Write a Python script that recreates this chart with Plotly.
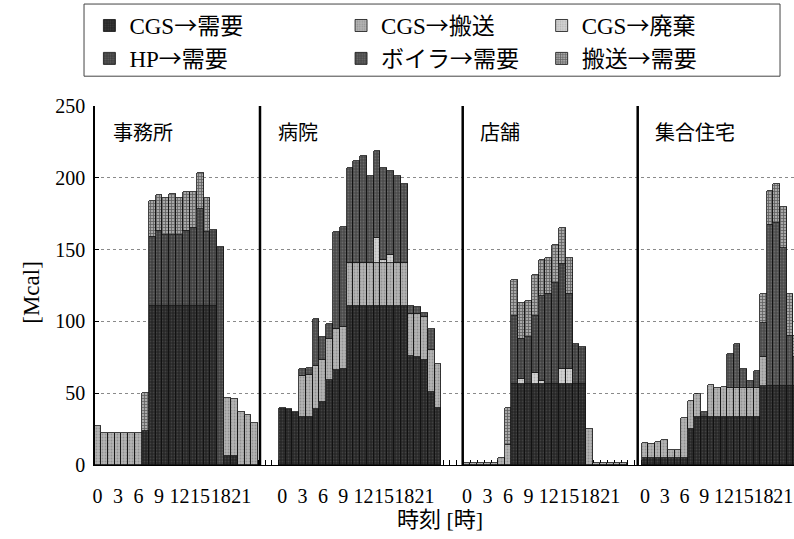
import plotly.graph_objects as go

# ---------------- data ----------------
series_names = ["CGS→需要", "CGS→搬送", "CGS→廃棄", "HP→需要", "ボイラ→需要", "搬送→需要"]
buildings = ["事務所", "病院", "店舗", "集合住宅"]
hour_ticks = [0, 3, 6, 9, 12, 15, 18, 21]
y_ticks = [0, 50, 100, 150, 200, 250]

# 事務所
office_cgs_demand = [0, 0, 0, 0, 0, 0, 0, 24, 111, 111, 111, 111, 111, 111, 111, 111, 111, 111, 0, 6, 6, 0, 0, 0]
office_cgs_transport = [27, 22, 22, 22, 22, 22, 22, 0, 0, 0, 0, 0, 0, 0, 0, 0, 0, 0, 0, 41, 40, 37, 35, 29]
office_cgs_waste = [0, 0, 0, 0, 0, 0, 0, 0, 0, 0, 0, 0, 0, 0, 0, 0, 0, 0, 0, 0, 0, 0, 0, 0]
office_hp = [0, 0, 0, 0, 0, 0, 0, 0, 48, 52, 49.5, 49.5, 49.5, 52, 54, 67, 51, 53, 152, 0, 0, 0, 0, 0]
office_boiler = [0, 0, 0, 0, 0, 0, 0, 0, 0, 0, 0, 0, 0, 0, 0, 0, 0, 0, 0, 0, 0, 0, 0, 0]
office_transport_in = [0, 0, 0, 0, 0, 0, 0, 26, 25, 25, 25.5, 28.5, 25.5, 27, 25, 25, 24, 0, 0, 0, 0, 0, 0, 0]

# 病院
hosp_cgs_demand = [40, 39, 37, 33.5, 33.5, 39, 44, 59, 66, 67, 111, 111, 111, 111, 111, 111, 111, 111, 111, 76, 75, 73, 51, 40]
hosp_cgs_transport = [0, 0, 0, 28.5, 29, 30, 29, 29, 29, 29, 30, 30, 30, 30, 30, 30, 30, 30, 30, 29, 30, 30, 29, 30]
hosp_cgs_waste = [0, 0, 0, 0, 0, 0, 0, 0, 0, 0, 0, 0, 0, 0, 17, 2, 5, 0, 0, 0, 0, 0, 0, 0]
hosp_hp = [0, 0, 0, 0, 0, 0, 0, 0, 0, 0, 0, 0, 0, 0, 0, 0, 0, 0, 0, 0, 0, 0, 0, 0]
hosp_boiler = [0, 0, 0, 5, 5, 33, 16, 10, 67, 70, 66, 71, 74, 60, 61, 64, 59, 60, 55, 6, 5, 3, 15, 0]
hosp_transport_in = [0, 0, 0, 0, 0, 0, 0, 0, 0, 0, 0, 0, 0, 0, 0, 0, 0, 0, 0, 0, 0, 0, 0, 0]

# 店舗
store_cgs_demand = [0, 0, 0, 0, 0, 0, 0, 56.6, 56.6, 56.6, 56.6, 56.6, 56.6, 56.6, 56.6, 56.6, 56.6, 56.6, 0, 0, 0, 0, 0, 0]
store_cgs_transport = [1.5, 1.5, 1.5, 1.5, 1.5, 4.6, 14, 0, 0, 0, 0, 0, 0, 0, 0, 0, 0, 0, 25, 1.5, 1.5, 1.5, 1.5, 1.5]
store_cgs_waste = [0, 0, 0, 0, 0, 0, 0, 0, 3.4, 0, 7.4, 2, 0, 0, 10.4, 10.4, 0, 0, 0, 0, 0, 0, 0, 0]
store_hp = [0, 0, 0, 0, 0, 0, 0, 47.4, 28, 32.4, 40, 59.4, 62.4, 70.4, 73, 52, 27.4, 25.4, 0, 0, 0, 0, 0, 0]
store_boiler = [0, 0, 0, 0, 0, 0, 0, 0, 0, 0, 0, 0, 0, 0, 0, 0, 0, 0, 0, 0, 0, 0, 0, 0]
store_transport_in = [0, 0, 0, 0, 0, 0, 26, 25, 25, 25, 28, 25, 25, 26, 25, 25, 0, 0, 0, 0, 0, 0, 0, 0]

# 集合住宅
apt_cgs_demand = [5, 5, 5, 5, 5, 5, 5, 25, 33.5, 33.5, 33.5, 33.5, 33.5, 33.5, 33.5, 33.5, 33.5, 33.5, 55, 55, 55, 55, 55, 55]
apt_cgs_transport = [10, 9.5, 10.7, 12.3, 5.4, 5.4, 28, 19.6, 16.2, 0, 22, 20.3, 20.5, 20, 20, 20, 20, 20, 20, 0, 0, 0, 0, 0]
apt_cgs_waste = [0, 0, 0, 0, 0, 0, 0, 0, 0, 0, 0, 0, 0, 0, 0, 0, 0, 0, 0, 0, 0, 0, 0, 0]
apt_hp = [0, 0, 0, 0, 0, 0, 0, 0, 0, 0, 0, 0, 0, 0, 0, 0, 0, 0, 0, 0, 0, 0, 0, 0]
apt_boiler = [0, 0, 0, 0, 0, 0, 0, 0, 0, 3.5, 0, 0, 0, 23.5, 30.5, 13.5, 5, 12.3, 24, 112, 113.6, 96, 35, 20]
apt_transport_in = [0, 0, 0, 0, 0, 0, 0, 0, 0, 0, 0, 0, 0, 0, 0, 0, 0, 0, 20, 23.5, 27.4, 28.4, 29, 15]

# ---------------- layout constants ----------------
panel_offsets = [0, 27, 54, 80]          # category slot of hour 0 for each building
panel_scales = [1.0, 0.99, 0.995, 0.962] # bar width (in slots) of each building panel
divider_slots = [24.25, 53.86, 79.42]    # vertical separators between buildings
x_range = [0.15, 102.25]
FONT_LAT = "Liberation Serif, Noto Sans CJK JP, serif"
FONT_JP = "Noto Sans CJK JP, sans-serif"

per_series = [
    [office_cgs_demand, hosp_cgs_demand, store_cgs_demand, apt_cgs_demand],
    [office_cgs_transport, hosp_cgs_transport, store_cgs_transport, apt_cgs_transport],
    [office_cgs_waste, hosp_cgs_waste, store_cgs_waste, apt_cgs_waste],
    [office_hp, hosp_hp, store_hp, apt_hp],
    [office_boiler, hosp_boiler, store_boiler, apt_boiler],
    [office_transport_in, hosp_transport_in, store_transport_in, apt_transport_in],
]

styles = [
    dict(bg="#262626", fg="#5e5e5e", shape=".", size=3, sol=0.3),
    dict(bg="#b4b4b4", fg="#6e6e6e", shape=".", size=3, sol=0.3),
    dict(bg="#d2d2d2", fg="#8e8e8e", shape=".", size=3, sol=0.3),
    dict(bg="#404040", fg="#818181", shape=".", size=3, sol=0.3),
    dict(bg="#4a4a4a", fg="#8a8a8a", shape=".", size=3, sol=0.3),
    dict(bg="#a8a8a8", fg="#151515", shape="+", size=3, sol=0.45),
]
legend_ids = ["legend", "legend2", "legend3", "legend", "legend2", "legend3"]


def legend_label(s):
    return s.replace("→", "<span style='font-family:Noto Sans CJK JP'>→</span>")


fig = go.Figure()
for name, blocks, st, lg in zip(series_names, per_series, styles, legend_ids):
    xs, ys, ws = [], [], []
    for off, sc, vals in zip(panel_offsets, panel_scales, blocks):
        for h, v in enumerate(vals):
            xs.append(off + (h + 0.5) * sc)
            ws.append(sc)
            ys.append(v if v else None)
    fig.add_trace(go.Bar(
        x=xs, y=ys, name=legend_label(name), width=ws, legend=lg, legendgroup=name,
        marker=dict(
            color=st["bg"],
            line=dict(color="#111111", width=0.8),
            pattern=dict(shape=st["shape"], bgcolor=st["bg"], fgcolor=st["fg"],
                         size=st["size"], solidity=st["sol"], fillmode="overlay"),
        ),
        hoverinfo="skip",
    ))

tickvals, ticktext = [], []
for off, sc in zip(panel_offsets, panel_scales):
    for h in hour_ticks:
        tickvals.append(off + (h + 0.5) * sc)
        ticktext.append(str(h))

shapes = []
for d in divider_slots:
    shapes.append(dict(type="line", xref="x", yref="y", x0=d, x1=d, y0=0, y1=250,
                       line=dict(color="black", width=2.5), layer="above"))
# legend frame
shapes.append(dict(type="rect", xref="paper", yref="paper",
                   x0=-0.0157, x1=0.98, y0=1.083, y1=1.284,
                   line=dict(color="#444444", width=1)))

annotations = []
title_slots = [x_range[0]] + divider_slots
for b, s in zip(buildings, title_slots):
    annotations.append(dict(x=s + 2.3, y=0.928, xref="x", yref="paper", text=b,
                            showarrow=False, xanchor="left", yanchor="middle",
                            font=dict(family=FONT_JP, size=20, color="black")))
annotations.append(dict(x=0.494, y=-0.153, xref="paper", yref="paper", text="時刻 [時]",
                        showarrow=False, xanchor="center", yanchor="middle",
                        font=dict(family=FONT_LAT, size=22, color="black")))
annotations.append(dict(x=-0.09, y=0.48, xref="paper", yref="paper", text="[Mcal]",
                        showarrow=False, textangle=-90, xanchor="center", yanchor="middle",
                        font=dict(family=FONT_LAT, size=23, color="black")))

leg_common = dict(orientation="v", xanchor="left", yanchor="top", traceorder="normal",
                  bgcolor="rgba(0,0,0,0)", borderwidth=0, tracegroupgap=12,
                  font=dict(family=FONT_LAT, size=23, color="black"), itemwidth=30)

fig.update_layout(
    width=794, height=539,
    margin=dict(l=95, r=0, t=106, b=74, pad=0, autoexpand=False),
    paper_bgcolor="white", plot_bgcolor="white",
    barmode="stack", bargap=0, showlegend=True,
    legend=dict(x=-0.008, y=1.284, **leg_common),
    legend2=dict(x=0.352, y=1.284, **leg_common),
    legend3=dict(x=0.639, y=1.284, **leg_common),
    xaxis=dict(range=x_range, tickmode="array", tickvals=tickvals, ticktext=ticktext,
               tickangle=0, automargin=False, ticklabeloverflow="allow",
               showgrid=False, zeroline=False, showline=True, linecolor="black", linewidth=1,
               ticks="", ticklabelstandoff=13, layer="below traces",
               tickfont=dict(family=FONT_LAT, size=20, color="black"),
               minor=dict(ticks="inside", tick0=0, dtick=1, ticklen=5, tickcolor="black",
                          showgrid=False)),
    yaxis=dict(range=[0, 250], tickvals=y_ticks, showgrid=True, gridcolor="#8a8a8a",
               griddash="dot", gridwidth=1, zeroline=False, showline=True, linecolor="black",
               linewidth=1.5, ticks="inside", ticklen=4, tickcolor="black",
               ticklabelstandoff=4, automargin=False,
               tickfont=dict(family=FONT_LAT, size=20, color="black")),
    shapes=shapes, annotations=annotations,
)

fig.write_html("out.html", config={"displayModeBar": False},
               post_script="document.body.style.margin='0';")
